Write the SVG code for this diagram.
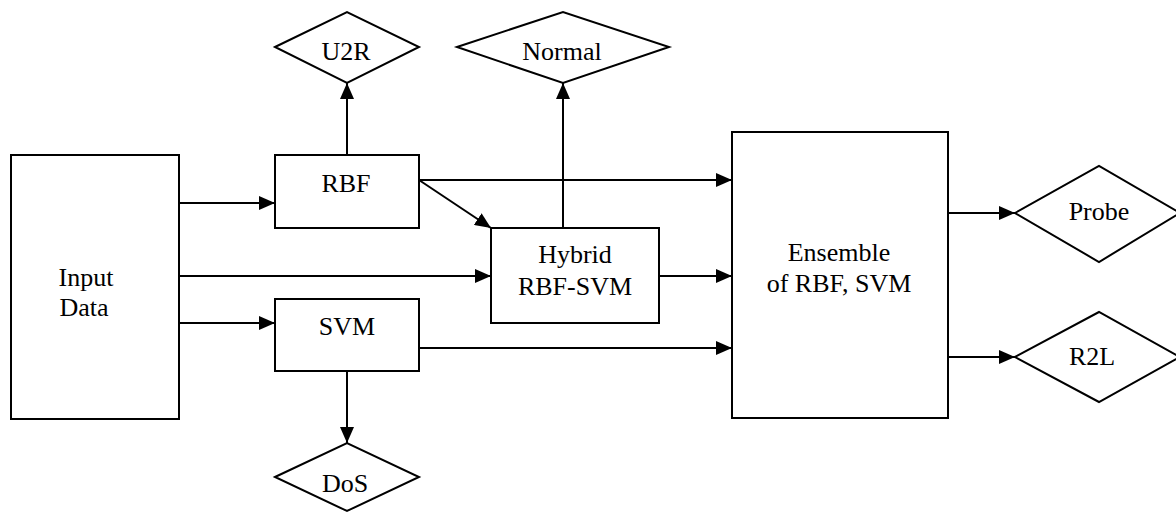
<svg xmlns="http://www.w3.org/2000/svg" width="1176" height="513" viewBox="0 0 1176 513">
<style>
.s{fill:#fff;stroke:#000;stroke-width:2}
.t{font-family:'Liberation Serif','Times New Roman','DejaVu Serif',serif;font-size:26px;fill:#000;text-anchor:middle}
.c{fill:none;stroke:#000;stroke-width:2}
</style>
<defs>
<marker id="a" markerUnits="userSpaceOnUse" markerWidth="16" markerHeight="14" refX="16" refY="7" orient="auto">
<path d="M0,0 L16,7 L0,14 z" fill="#000"/>
</marker>
</defs>
<rect width="1176" height="513" fill="#fff"/>
<g id="connectors">
<line class="c" x1="179" y1="203" x2="275" y2="203" marker-end="url(#a)"/>
<line class="c" x1="179" y1="276" x2="491" y2="276" marker-end="url(#a)"/>
<line class="c" x1="179" y1="323" x2="275" y2="323" marker-end="url(#a)"/>
<line class="c" x1="347" y1="155" x2="347" y2="83" marker-end="url(#a)"/>
<line class="c" x1="419" y1="180" x2="732" y2="180" marker-end="url(#a)"/>
<line class="c" x1="419" y1="180" x2="491" y2="228" marker-end="url(#a)"/>
<line class="c" x1="563" y1="228" x2="563" y2="83" marker-end="url(#a)"/>
<line class="c" x1="659" y1="276" x2="732" y2="276" marker-end="url(#a)"/>
<line class="c" x1="419" y1="348" x2="732" y2="348" marker-end="url(#a)"/>
<line class="c" x1="347" y1="371" x2="347" y2="443" marker-end="url(#a)"/>
<line class="c" x1="948" y1="213" x2="1015" y2="213" marker-end="url(#a)"/>
<line class="c" x1="948" y1="357" x2="1015" y2="357" marker-end="url(#a)"/>
</g>
<g id="input">
<rect class="s" x="11" y="155" width="168" height="264"/>
<text class="t" font-family="Liberation Serif" x="86" y="286">Input</text>
<text class="t" font-family="Liberation Serif" x="84" y="316">Data</text>
</g>
<g id="rbf">
<rect class="s" x="275" y="155" width="144" height="73"/>
<text class="t" font-family="Liberation Serif" x="346" y="192">RBF</text>
</g>
<g id="svm">
<rect class="s" x="275" y="299" width="144" height="72"/>
<text class="t" font-family="Liberation Serif" x="347" y="335">SVM</text>
</g>
<g id="hybrid">
<rect class="s" x="491" y="228" width="168" height="95"/>
<text class="t" font-family="Liberation Serif" x="575" y="263">Hybrid</text>
<text class="t" font-family="Liberation Serif" x="575" y="295">RBF-SVM</text>
</g>
<g id="ensemble">
<rect class="s" x="732" y="132" width="216" height="286"/>
<text class="t" font-family="Liberation Serif" x="839" y="261">Ensemble</text>
<text class="t" font-family="Liberation Serif" x="839" y="292">of RBF, SVM</text>
</g>
<g id="u2r">
<polygon class="s" points="275,47 347,12 419,47 347,83"/>
<text class="t" font-family="Liberation Serif" x="346" y="60">U2R</text>
</g>
<g id="normal">
<polygon class="s" points="457,47 563,12 669,47 563,83"/>
<text class="t" font-family="Liberation Serif" x="562" y="60">Normal</text>
</g>
<g id="dos">
<polygon class="s" points="275,477 347,443 419,477 347,511"/>
<text class="t" font-family="Liberation Serif" x="345" y="492">DoS</text>
</g>
<g id="probe">
<polygon class="s" points="1015,213 1099,166 1180,213 1099,262"/>
<text class="t" font-family="Liberation Serif" x="1099" y="220">Probe</text>
</g>
<g id="r2l">
<polygon class="s" points="1015,357 1099,312 1180,357 1099,402"/>
<text class="t" font-family="Liberation Serif" x="1092" y="365">R2L</text>
</g>
</svg>
